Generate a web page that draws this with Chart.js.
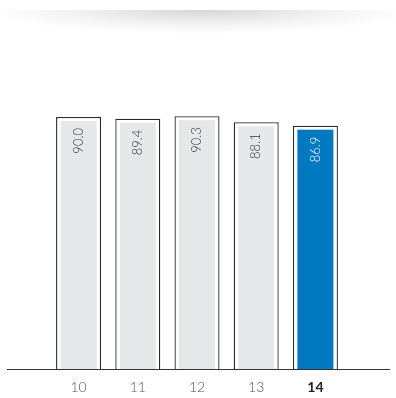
<!DOCTYPE html>
<html><head><meta charset="utf-8">
<script src="https://cdn.jsdelivr.net/npm/chart.js@4"></script>
<style>
html,body{margin:0;padding:0;background:#fff;}
#wrap{position:relative;width:396px;height:398px;}
#shadow{position:absolute;left:7px;top:10px;width:389px;height:24px;background:radial-gradient(ellipse 55% 100% at 50% 0%,rgba(0,0,0,0.16),rgba(0,0,0,0.05) 60%,rgba(0,0,0,0) 100%);}
canvas{position:absolute;left:0;top:0;}
</style></head>
<body><div id="wrap"><div id="shadow"></div><canvas id="c" width="396" height="398"></canvas></div>
<script>
const categories = ['10','11','12','13','14'];
const values = [90.0, 89.4, 90.3, 88.1, 86.9];
const valueLabels = ['90.0','89.4','90.3','88.1','86.9'];
const highlightIndex = 4;

const innerPlugin = {
  id:'inner',
  afterDatasetsDraw(chart){
    const ctx = chart.ctx;
    const meta = chart.getDatasetMeta(0);
    meta.data.forEach((bar,i)=>{
      const w = bar.width;
      const l = bar.x - w/2 + 4.5, r = bar.x + w/2 - 4.5;
      const t = bar.y + 4;
      ctx.save();
      ctx.fillStyle = i===highlightIndex ? '#0079c1' : '#e6e7e8';
      ctx.fillRect(l, t, r-l, bar.base - t);
      ctx.translate(bar.x, t + 7);
      ctx.rotate(-Math.PI/2);
      ctx.font = '300 13px Lato, "DejaVu Sans", sans-serif';
      ctx.fillStyle = i===highlightIndex ? '#ffffff' : '#333333';
      ctx.textAlign = 'right';
      ctx.textBaseline = 'middle';
      ctx.fillText(valueLabels[i], 0, 0);
      ctx.restore();
    });
    const y0 = chart.scales.y.getPixelForValue(0);
    ctx.save();
    ctx.strokeStyle = '#333';
    ctx.lineWidth = 1;
    ctx.beginPath();
    ctx.moveTo(7, Math.round(y0)+0.5);
    ctx.lineTo(390, Math.round(y0)+0.5);
    ctx.stroke();
    ctx.restore();
  }
};

new Chart(document.getElementById('c'), {
  type:'bar',
  data:{labels:categories, datasets:[{data:values, backgroundColor:'#ffffff', borderColor:'#2a2a2a', borderWidth:1.3, categoryPercentage:1, barPercentage:0.76}]},
  options:{
    responsive:false, animation:false,
    layout:{padding:{left:49, right:51, top:89, bottom:0}},
    plugins:{legend:{display:false}, tooltip:{enabled:false}},
    scales:{
      y:{display:false, min:0, max:100},
      x:{grid:{display:false, drawTicks:false}, border:{display:false},
         afterFit:(s)=>{s.height = 29;},
         ticks:{padding:10, color:(c)=>c.index===highlightIndex?'#222':'#555',
           font:(c)=>({family:'Lato, "DejaVu Sans", sans-serif', size:14, weight:c.index===highlightIndex?'bold':'300'})}}
    }
  },
  plugins:[innerPlugin]
});
</script></body></html>
